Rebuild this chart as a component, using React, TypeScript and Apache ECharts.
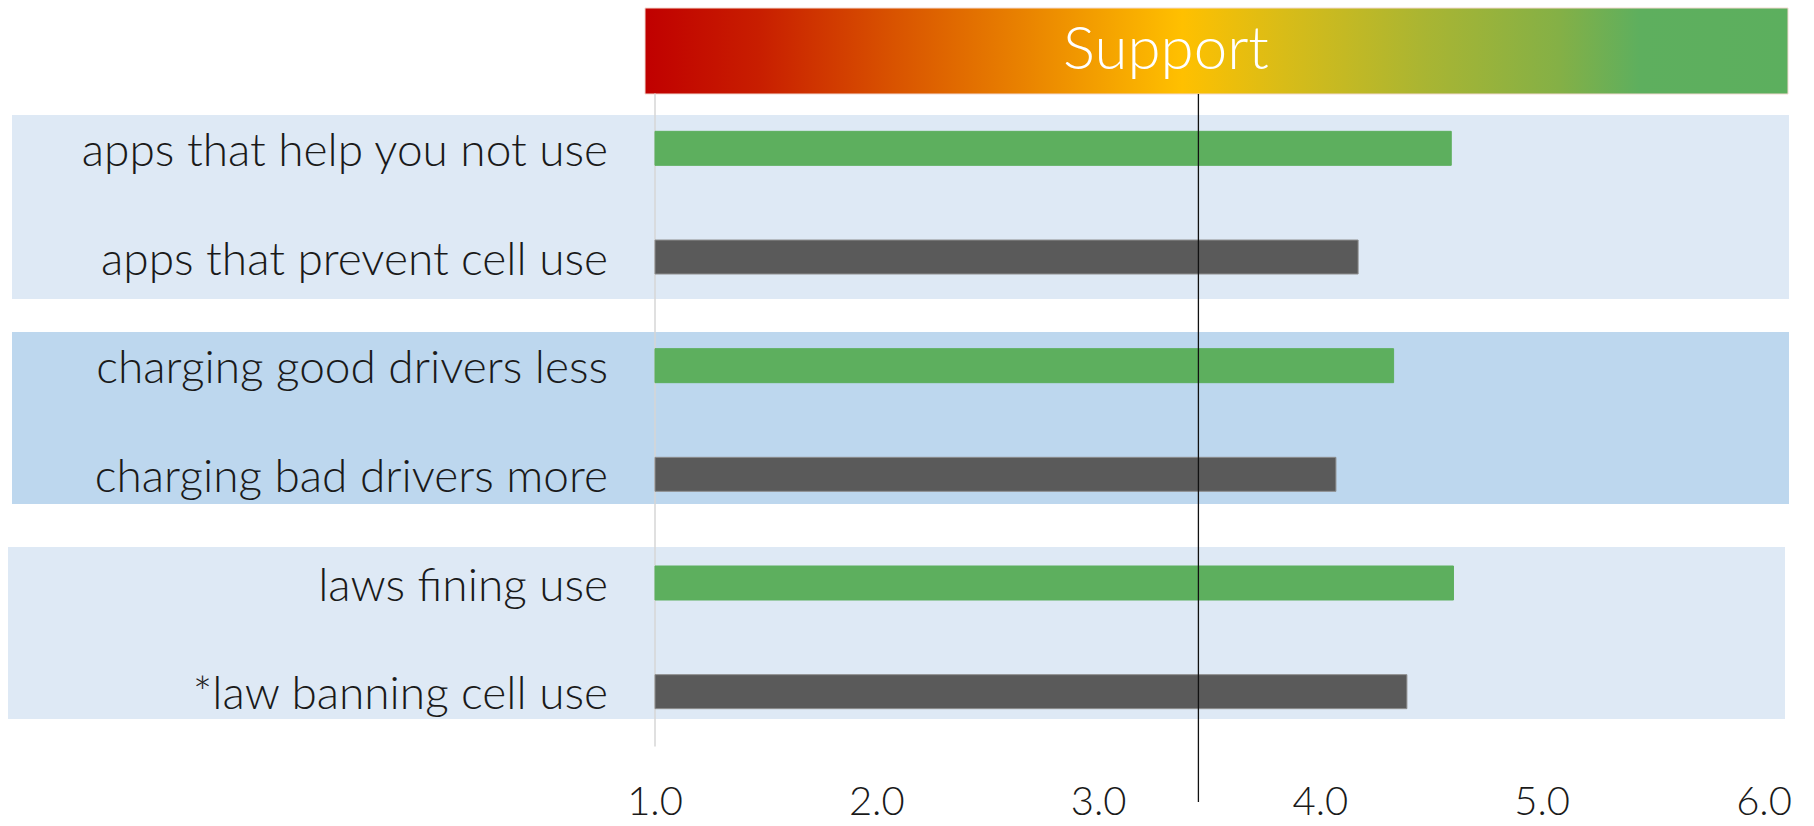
import { useEffect, useRef } from "react";
import * as echarts from "echarts";

// Survey items, top to bottom
const categories = [
  "apps that help you not use",
  "apps that prevent cell use",
  "charging good drivers less",
  "charging bad drivers more",
  "laws fining use",
  "*law banning cell use",
];

// Mean support score per item (1 = oppose, 6 = support)
const supportScores = [4.59, 4.17, 4.33, 4.07, 4.6, 4.39];

// Bar tone per item
const barTones = ["green", "gray", "green", "gray", "green", "gray"];

// Scale
const AXIS_MIN = 1;
const AXIS_MAX = 6;
const AXIS_STEP = 1;

// Neutral reference position on the scale
const neutralPoint = 3.45;

const headerTitle = "Support";

const FONT = "Lato, 'Open Sans', 'Noto Sans', sans-serif";
const TONE_FILL: Record<string, string> = { green: "#5DAF5E", gray: "#5A5A5A" };
const TONE_STROKE: Record<string, string> = { green: "#5DAF5E", gray: "#8E8E8E" };

export default function App() {
  const ref = useRef<HTMLDivElement>(null);

  useEffect(() => {
    if (!ref.current) return;
    const chart = echarts.init(ref.current, undefined, { renderer: "svg" });

    const bands = [
      { id: "band1", x: 12, y: 115, w: 1777, h: 184, fill: "#DEE9F5" },
      { id: "band2", x: 12, y: 332, w: 1777, h: 172, fill: "#BDD7EE" },
      { id: "band3", x: 8, y: 547, w: 1777, h: 172, fill: "#DEE9F5" },
    ];

    const baseGraphics: any[] = [
      ...bands.map((b) => ({
        type: "rect",
        id: b.id,
        z: -1,
        silent: true,
        shape: { x: b.x, y: b.y, width: b.w, height: b.h },
        style: { fill: b.fill },
      })),
      {
        type: "rect",
        id: "header",
        z: 0,
        silent: true,
        shape: { x: 645, y: 8, width: 1143, height: 86 },
        style: {
          fill: new echarts.graphic.LinearGradient(0, 0, 1, 0, [
            { offset: 0, color: "#C00000" },
            { offset: 0.1, color: "#C81E00" },
            { offset: 0.22, color: "#D95400" },
            { offset: 0.33, color: "#E98200" },
            { offset: 0.47, color: "#FFC000" },
            { offset: 0.56, color: "#D8BC18" },
            { offset: 0.68, color: "#AAB532" },
            { offset: 0.8, color: "#84B046" },
            { offset: 0.87, color: "#5EAF5E" },
            { offset: 1, color: "#5CAF5E" },
          ]),
          stroke: "#F3D9D0",
          lineWidth: 1,
        },
      },
      {
        type: "text",
        id: "headerTitle",
        z: 1,
        silent: true,
        x: 1166,
        y: 46,
        style: {
          text: headerTitle,
          fill: "#FFFFFF",
          font: `300 60px ${FONT}`,
          textAlign: "center",
          textVerticalAlign: "middle",
        },
      },
    ];

    chart.setOption({
      animation: false,
      grid: { left: 655, right: 50, top: 94, bottom: 80, containLabel: false },
      xAxis: {
        type: "value",
        min: AXIS_MIN,
        max: AXIS_MAX,
        interval: AXIS_STEP,
        axisLine: { show: false },
        axisTick: { show: false },
        splitLine: { show: false },
        axisLabel: {
          formatter: (v: number) => v.toFixed(1),
          fontFamily: FONT,
          fontWeight: 300,
          fontSize: 40,
          lineHeight: 40,
          color: "#1A1A1A",
          margin: 34,
        },
      },
      yAxis: {
        type: "category",
        inverse: true,
        data: categories,
        axisLine: { show: true, lineStyle: { color: "#D6D6D6", width: 1.5 } },
        axisTick: { show: false },
        splitLine: { show: false },
        axisLabel: {
          fontFamily: FONT,
          fontWeight: 300,
          fontSize: 46,
          color: "#1A1A1A",
          margin: 47,
        },
      },
      series: [
        {
          type: "custom",
          name: "support",
          encode: { x: 0, y: 1 },
          data: supportScores.map((v, i) => [v, i]),
          renderItem: (params: any, api: any) => {
            const idx = api.value(1);
            const score = api.value(0);
            const start = api.coord([AXIS_MIN, idx]);
            const end = api.coord([score, idx]);
            const h = 34;
            const tone = barTones[params.dataIndex];
            return {
              type: "rect",
              shape: { x: start[0], y: start[1] - h / 2, width: end[0] - start[0], height: h },
              style: { fill: TONE_FILL[tone], stroke: TONE_STROKE[tone], lineWidth: 1 },
            };
          },
        },
      ],
      graphic: baseGraphics,
    });

    // Neutral reference line, placed through the x scale
    const px = chart.convertToPixel({ xAxisIndex: 0 }, neutralPoint) as number;
    chart.setOption({
      graphic: [
        ...baseGraphics,
        {
          type: "line",
          id: "neutral",
          z: 50,
          silent: true,
          shape: { x1: px, y1: 94, x2: px, y2: 802 },
          style: { stroke: "#111111", lineWidth: 1.3 },
        },
      ],
    });

    return () => chart.dispose();
  }, []);

  return (
    <div
      ref={ref}
      style={{ position: "fixed", left: 0, top: 0, width: 1814, height: 826, background: "#FFFFFF" }}
    />
  );
}
